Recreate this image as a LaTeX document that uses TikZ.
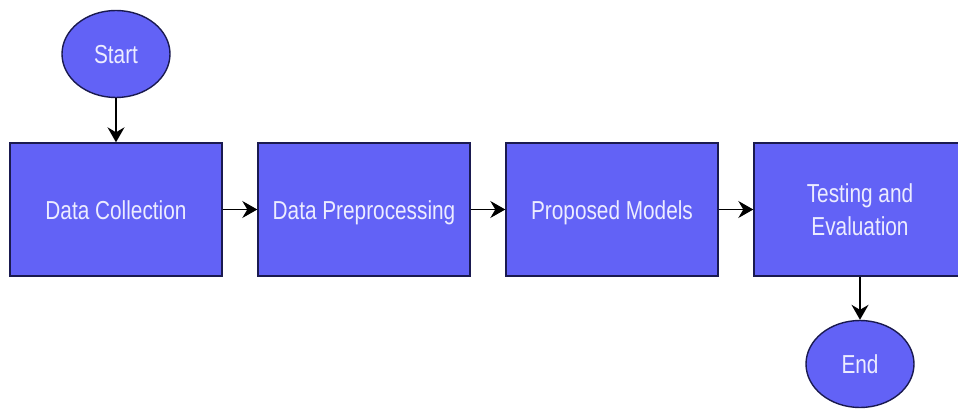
\documentclass[tikz,border=0pt]{standalone}
\usepackage{fontspec}
\usepackage{graphicx}
\setmainfont{Liberation Sans}
\usetikzlibrary{shapes.geometric,arrows.meta}
\definecolor{boxfill}{HTML}{6262F6}
\definecolor{boxline}{HTML}{1A1A50}
\definecolor{boxtext}{HTML}{ECECFF}
\newcommand{\mylbl}[1]{\raisebox{-3pt}[\height][\depth]{\scalebox{0.8}[1]{\fontsize{26}{33}\selectfont\begin{tabular}{@{}c@{}}#1\end{tabular}}}}
\tikzset{
  x=1pt,y=1pt,
  base/.style={draw=boxline,line width=1.4pt,fill=boxfill,text=boxtext,
    inner sep=0pt,align=center},
  procbox/.style={base,rectangle,minimum width=212pt,minimum height=133pt},
  termnode/.style={base,ellipse,minimum width=108pt,minimum height=87pt},
  flow/.style={draw=black,line width=1.4pt,-{Stealth[length=15pt,width=17pt,inset=5pt]}}
}
\begin{document}
\begin{tikzpicture}
\useasboundingbox (0,0) rectangle (958,410);
\begin{scope}
\clip (0,0) rectangle (958,410);
\node[termnode] (start) at (116,356) {\mylbl{Start}};
\node[procbox] (dc) at (116,200.5) {\mylbl{Data Collection}};
\node[procbox] (dp) at (364,200.5) {\mylbl{Data Preprocessing}};
\node[procbox] (pm) at (612,200.5) {\mylbl{Proposed Models}};
\node[procbox] (te) at (860,200.5) {\mylbl{Testing and\\Evaluation}};
\node[termnode] (end) at (860,46) {\mylbl{End}};
\draw[flow] (start) -- (dc);
\draw[flow] (dc) -- (dp);
\draw[flow] (dp) -- (pm);
\draw[flow] (pm) -- (te);
\draw[flow] (te) -- (end);
\end{scope}
\end{tikzpicture}
\end{document}
